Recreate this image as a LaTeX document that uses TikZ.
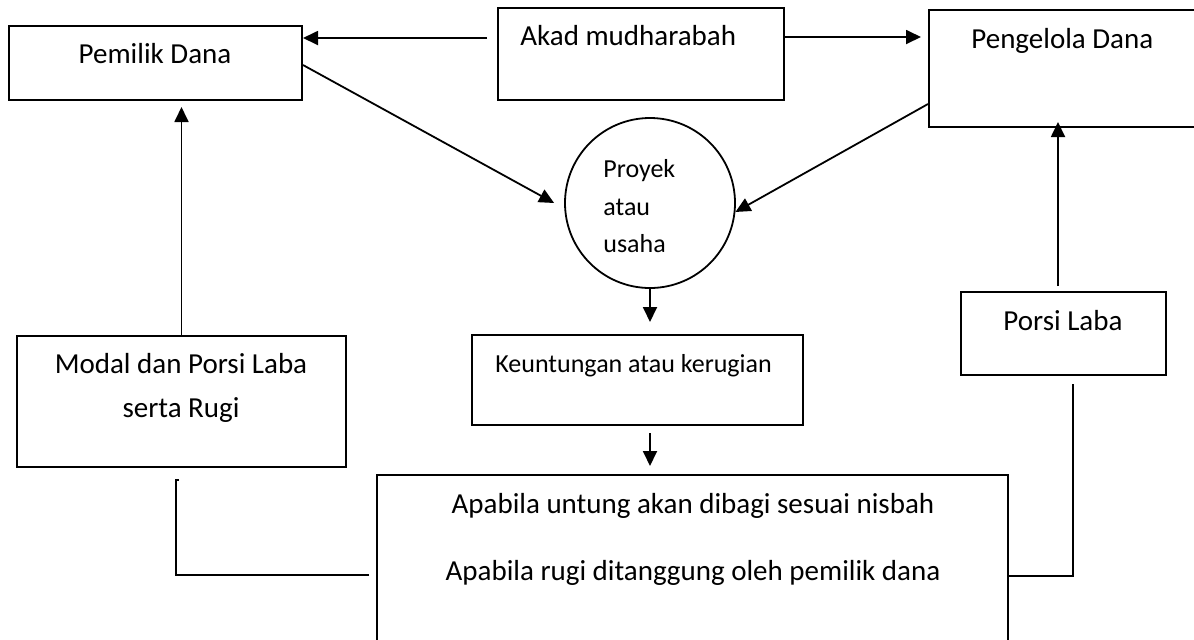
\documentclass[tikz,border=0pt]{standalone}
\usepackage{fontspec}
\setmainfont{Carlito}
\usetikzlibrary{arrows.meta,fit}

\begin{document}
\begin{tikzpicture}[x=0.5pt,y=-0.5pt,
    kotak/.style={draw, line width=1pt, inner sep=0pt},
    panah/.style={-{Triangle[length=7.5pt,width=7pt]}, line width=0.9pt},
    garis/.style={line width=0.9pt},
    teks/.style={font=\fontsize{14.5pt}{17pt}\selectfont, inner sep=0pt},
    teks kecil/.style={font=\fontsize{13pt}{15pt}\selectfont, inner sep=0pt}]
    \useasboundingbox (0,0) rectangle (1194,639);
    \clip (0,0) rectangle (1194,639);
    % kotak
    \node[kotak, fit={(9,26) (302,100)}] (pemilik) {};
    \node[kotak, fit={(498,8) (784,100)}] (akad) {};
    \node[kotak, fit={(929,10) (1230,127)}] (pengelola) {};
    \node[draw, circle, line width=0.9pt, minimum size=85pt, inner sep=0pt] (proyek) at (650,203) {};
    \node[kotak, fit={(472,335) (803,425)}] (keuntungan) {};
    \node[kotak, fit={(17,336) (346,467)}] (modal) {};
    \node[kotak, fit={(961,292) (1166,375)}] (porsi) {};
    \node[kotak, fit={(377,475) (1008,700)}] (apabila) {};
    % teks
    \node[teks, anchor=base] (tpemilik) at (155,63) {Pemilik Dana};
    \node[teks, anchor=base west] (takad) at (520,45) {Akad mudharabah};
    \node[teks, anchor=base west] (tpengelola) at (971,48) {Pengelola Dana};
    \foreach \kata/\yy in {Proyek/177, atau/215, usaha/252}
        \node[teks kecil, anchor=base west] (t\kata) at (603,\yy) {\kata};
    \node[teks kecil, anchor=base west] (tkeuntungan) at (495,372) {Keuntungan atau kerugian};
    \node[teks, anchor=base] (tmodal1) at (181,373) {Modal dan Porsi Laba};
    \node[teks, anchor=base] (tmodal2) at (181,417) {serta Rugi};
    \node[teks, anchor=base] (tporsi) at (1063,330) {Porsi Laba};
    \node[teks, anchor=base] (tapabila1) at (693,513) {Apabila untung akan dibagi sesuai nisbah};
    \node[teks, anchor=base] (tapabila2) at (693,580) {Apabila rugi ditanggung oleh pemilik dana};
    % panah
    \draw[panah] ([shift={(-10,31)}]akad.north west) -- ([shift={(0,13)}]pemilik.north east);
    \draw[panah] ([shift={(0,30)}]akad.north east) -- ([shift={(-7,28)}]pengelola.north west);
    \draw[panah] ([shift={(0,40)}]pemilik.north east) -- ([shift={(-10,0)}]proyek.west);
    \draw[panah] ([shift={(0,95)}]pengelola.north west) -- (proyek.-6);
    \draw[panah, shorten >=6pt] (proyek.south) -- (proyek.south |- keuntungan.north);
    \draw[panah, shorten <=3.5pt, shorten >=4pt] (proyek.south |- keuntungan.south) -- (proyek.south |- apabila.north);
    \draw[panah, shorten >=3pt] (modal.north) -- (modal.north |- pemilik.south);
    \draw[panah, shorten <=2.5pt, shorten >=-3pt] ([xshift=-2.75pt]porsi.north) -- ([xshift=-2.75pt]porsi.north |- pengelola.south);
    % garis tanpa panah
    \draw[garis, shorten >=4pt] ([shift={(0,102)}]apabila.north east) -| ([xshift=4.75pt]porsi.south);
    \coordinate (ujung) at (176,480);
    \draw[garis] ([shift={(-7,101)}]apabila.north west) -| (ujung) -- ++(3,0);
\end{tikzpicture}
\end{document}
